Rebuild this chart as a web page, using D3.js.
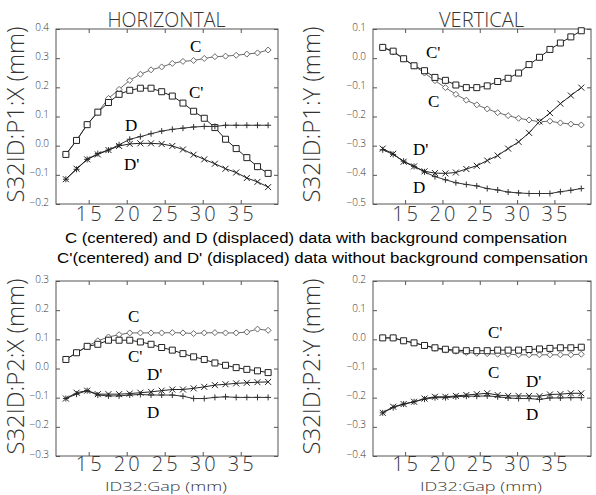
<!DOCTYPE html>
<html>
<head>
<meta charset="utf-8">
<script src="https://cdn.jsdelivr.net/npm/d3@7"></script>
<style>
  html, body { margin: 0; padding: 0; background: #fff; }
  svg { display: block; }
  .thin { font-family: "Open Sans", "DejaVu Sans", sans-serif; font-weight: 300; fill: #333; }
  .cap { font-family: "Liberation Sans", Arial, sans-serif; fill: #000; }
  .lab { font-family: "Liberation Serif", "Times New Roman", serif; fill: #000; }
</style>
</head>
<body>
<script>
// ---------- data ----------
const gap = [12.0, 13.4, 14.8, 16.2, 17.6, 19.0, 20.4, 21.8, 23.2, 24.6, 26.0, 27.4, 28.8, 30.2, 31.6, 33.0, 34.4, 35.8, 37.2, 38.6];
const xTicks = [15, 20, 25, 30, 35];

// P1:X (horizontal, top-left)
const p1x_C  = [-0.030, 0.018, 0.073, 0.115, 0.162, 0.193, 0.224, 0.245, 0.260, 0.270, 0.282, 0.289, 0.292, 0.299, 0.305, 0.307, 0.310, 0.314, 0.318, 0.328];
const p1x_Cp = [-0.030, 0.018, 0.072, 0.115, 0.148, 0.176, 0.190, 0.197, 0.197, 0.185, 0.170, 0.146, 0.118, 0.094, 0.062, 0.022, -0.010, -0.041, -0.072, -0.095];
const p1x_D  = [-0.115, -0.081, -0.047, -0.027, -0.015, 0.003, 0.022, 0.031, 0.041, 0.050, 0.056, 0.060, 0.064, 0.066, 0.066, 0.070, 0.070, 0.070, 0.070, 0.070];
const p1x_Dp = [-0.115, -0.079, -0.047, -0.030, -0.015, -0.001, 0.006, 0.008, 0.008, 0.006, -0.001, -0.013, -0.031, -0.047, -0.062, -0.079, -0.092, -0.111, -0.124, -0.142];

// P1:Y (vertical, top-right)
const p1y_C  = [0.037, 0.021, -0.002, -0.026, -0.051, -0.077, -0.101, -0.124, -0.144, -0.160, -0.174, -0.187, -0.197, -0.206, -0.212, -0.218, -0.216, -0.222, -0.226, -0.229];
const p1y_Cp = [0.037, 0.024, -0.002, -0.026, -0.043, -0.066, -0.076, -0.092, -0.101, -0.101, -0.095, -0.080, -0.069, -0.051, -0.022, 0.003, 0.030, 0.052, 0.073, 0.094];
const p1y_D  = [-0.314, -0.330, -0.353, -0.371, -0.390, -0.406, -0.417, -0.427, -0.433, -0.438, -0.447, -0.452, -0.459, -0.462, -0.464, -0.464, -0.464, -0.458, -0.453, -0.447];
const p1y_Dp = [-0.310, -0.328, -0.355, -0.371, -0.388, -0.394, -0.395, -0.392, -0.380, -0.369, -0.351, -0.334, -0.310, -0.287, -0.256, -0.217, -0.188, -0.156, -0.128, -0.101];

// P2:X (bottom-left)
const p2x_C  = [0.031, 0.054, 0.076, 0.095, 0.108, 0.116, 0.122, 0.122, 0.122, 0.122, 0.123, 0.122, 0.120, 0.122, 0.123, 0.122, 0.122, 0.125, 0.135, 0.131];
const p2x_Cp = [0.031, 0.054, 0.076, 0.083, 0.097, 0.097, 0.097, 0.091, 0.083, 0.072, 0.063, 0.051, 0.040, 0.031, 0.019, 0.011, 0.003, -0.003, -0.008, -0.014];
const p2x_D  = [-0.103, -0.088, -0.076, -0.091, -0.094, -0.094, -0.091, -0.089, -0.091, -0.091, -0.091, -0.095, -0.103, -0.103, -0.099, -0.097, -0.099, -0.099, -0.099, -0.099];
const p2x_Dp = [-0.103, -0.083, -0.076, -0.088, -0.088, -0.088, -0.086, -0.083, -0.080, -0.076, -0.072, -0.072, -0.068, -0.063, -0.057, -0.054, -0.051, -0.049, -0.047, -0.046];

// P2:Y (bottom-right)
const p2y_C  = [0.005, 0.005, -0.005, -0.012, -0.021, -0.031, -0.037, -0.041, -0.045, -0.048, -0.049, -0.051, -0.051, -0.053, -0.053, -0.053, -0.053, -0.053, -0.053, -0.051];
const p2y_Cp = [0.005, 0.005, -0.005, -0.012, -0.021, -0.029, -0.034, -0.037, -0.039, -0.039, -0.039, -0.037, -0.037, -0.037, -0.035, -0.033, -0.031, -0.029, -0.029, -0.027];
const p2y_D  = [-0.252, -0.234, -0.222, -0.214, -0.205, -0.200, -0.200, -0.197, -0.195, -0.195, -0.194, -0.197, -0.201, -0.203, -0.203, -0.206, -0.201, -0.201, -0.200, -0.200];
const p2y_Dp = [-0.252, -0.231, -0.222, -0.214, -0.203, -0.197, -0.197, -0.194, -0.191, -0.188, -0.185, -0.191, -0.194, -0.194, -0.194, -0.195, -0.189, -0.188, -0.185, -0.185];

const seriesNames = ["C", "C'", "D", "D'"];
const captionLines = [
  "C (centered) and D (displaced) data with background compensation",
  "C'(centered) and D' (displaced) data without background compensation"
];

// ---------- drawing ----------
const W = 596, H = 495;
const svg = d3.select("body").append("svg").attr("width", W).attr("height", H);

const markerPath = {
  "C":  "M0,-3L3,0L0,3L-3,0Z",
  "C'": "M-3,-3H3V3H-3Z",
  "D":  "M-3,0H3M0,-3V3",
  "D'": "M-3,-3L3,3M3,-3L-3,3"
};
const seriesColor = { "C": "#6a6a6a", "C'": "#222", "D": "#333", "D'": "#222" };

const panels = [
  { box: [56, 278, 29, 204], yDom: [-0.2, 0.4], yTicks: [-0.2, -0.1, 0, 0.1, 0.2, 0.3, 0.4],
    title: "HORIZONTAL", titleLen: 118, ytitle: "S32ID:P1:X (mm)", ytx: 24, xtitle: null, xlOff: 16.5,
    data: { "C": p1x_C, "C'": p1x_Cp, "D": p1x_D, "D'": p1x_Dp },
    labels: { "C": [28.32, 0.321], "C'": [28.19, 0.163], "D": [19.78, 0.050], "D'": [19.64, -0.083] } },
  { box: [373, 591, 29, 204], yDom: [-0.5, 0.1], yTicks: [-0.5, -0.4, -0.3, -0.2, -0.1, 0, 0.1],
    title: "VERTICAL", titleLen: 85, ytitle: "S32ID:P1:Y (mm)", ytx: 320, xtitle: null, xlOff: 16.5,
    data: { "C": p1y_C, "C'": p1y_Cp, "D": p1y_D, "D'": p1y_Dp },
    labels: { "C'": [17.8, 0.0], "C": [18.07, -0.167], "D'": [16.06, -0.332], "D": [16.06, -0.462] } },
  { box: [56, 278, 281, 456], yDom: [-0.3, 0.3], yTicks: [-0.3, -0.2, -0.1, 0, 0.1, 0.2, 0.3],
    title: null, ytitle: "S32ID:P2:X (mm)", ytx: 24, xtitle: "ID32:Gap (mm)", xlOff: 14.5,
    data: { "C": p2x_C, "C'": p2x_Cp, "D": p2x_D, "D'": p2x_Dp },
    labels: { "C": [20.17, 0.159], "C'": [20.17, 0.022], "D'": [22.67, -0.039], "D": [22.67, -0.170] } },
  { box: [373, 591, 281, 456], yDom: [-0.4, 0.2], yTicks: [-0.4, -0.3, -0.2, -0.1, 0, 0.1, 0.2],
    title: null, ytitle: "S32ID:P2:Y (mm)", ytx: 320, xtitle: "ID32:Gap (mm)", xlOff: 14.5,
    data: { "C": p2y_C, "C'": p2y_Cp, "D": p2y_D, "D'": p2y_Dp },
    labels: { "C'": [26.1, 0.005], "C": [26.1, -0.133], "D'": [31.19, -0.163], "D": [31.19, -0.277] } }
];

const fmt = d3.format(".1f");

panels.forEach(p => {
  const [x0, x1, y0, y1] = p.box;
  const x = d3.scaleLinear().domain([10.7, 39.9]).range([x0, x1]);
  const y = d3.scaleLinear().domain(p.yDom).range([y1, y0]);
  const g = svg.append("g");

  // frame
  g.append("rect").attr("x", x0).attr("y", y0).attr("width", x1 - x0).attr("height", y1 - y0)
    .attr("fill", "none").attr("stroke", "#555").attr("stroke-width", 1);

  // inward ticks on all sides via d3 axes
  const tickLen = 4;
  const axB = g.append("g").attr("transform", `translate(0,${y1})`)
    .call(d3.axisTop(x).tickValues(xTicks).tickSize(tickLen).tickFormat(""));
  const axT = g.append("g").attr("transform", `translate(0,${y0})`)
    .call(d3.axisBottom(x).tickValues(xTicks).tickSize(tickLen).tickFormat(""));
  const axL = g.append("g").attr("transform", `translate(${x0},0)`)
    .call(d3.axisRight(y).tickValues(p.yTicks).tickSize(tickLen).tickFormat(""));
  const axR = g.append("g").attr("transform", `translate(${x1},0)`)
    .call(d3.axisLeft(y).tickValues(p.yTicks).tickSize(tickLen).tickFormat(""));
  [axB, axT, axL, axR].forEach(a => {
    a.select(".domain").remove();
    a.selectAll("line").attr("stroke", "#555");
  });

  // y tick labels
  g.selectAll(".yl").data(p.yTicks).enter().append("text")
    .attr("class", "thin")
    .attr("x", x0 - 7).attr("y", d => y(d) + 1.5)
    .attr("text-anchor", "end").attr("font-size", 10)
    .text(d => fmt(d));

  // x tick labels
  g.selectAll(".xl").data(xTicks).enter().append("text")
    .attr("class", "thin")
    .attr("x", d => x(d) + 1.5).attr("y", y1 + p.xlOff)
    .attr("text-anchor", "middle").attr("font-size", 20)
    .attr("letter-spacing", 3)
    .text(d => d);

  // y title
  g.append("text").attr("class", "thin")
    .attr("transform", `translate(${p.ytx},${(y0 + y1) / 2 - 2}) rotate(-90)`)
    .attr("text-anchor", "middle").attr("font-size", 23)
    .attr("textLength", 176).attr("lengthAdjust", "spacingAndGlyphs")
    .text(p.ytitle);

  if (p.title) {
    g.append("text").attr("class", "thin")
      .attr("x", (x0 + x1) / 2 - 0.5).attr("y", 27)
      .attr("text-anchor", "middle").attr("font-size", 19.5)
      .attr("textLength", p.titleLen).attr("lengthAdjust", "spacingAndGlyphs")
      .text(p.title);
  }
  if (p.xtitle) {
    g.append("text").attr("class", "thin")
      .attr("x", (x0 + x1) / 2 - 1).attr("y", 490.5)
      .attr("text-anchor", "middle").attr("font-size", 13)
      .attr("textLength", 122).attr("lengthAdjust", "spacingAndGlyphs")
      .text(p.xtitle);
  }

  // series
  const line = d3.line().x((d, i) => x(gap[i])).y(d => y(d));
  seriesNames.forEach(name => {
    const vals = p.data[name];
    const col = seriesColor[name];
    g.append("path").datum(vals).attr("d", line)
      .attr("fill", "none").attr("stroke", col).attr("stroke-width", 1);
    g.selectAll(null).data(vals).enter().append("path")
      .attr("transform", (d, i) => `translate(${x(gap[i])},${y(d)})`)
      .attr("d", markerPath[name])
      .attr("fill", (name === "C" || name === "C'") ? "#fff" : "none")
      .attr("stroke", col).attr("stroke-width", 1);
  });

  // curve labels
  seriesNames.forEach(name => {
    const [lx, ly] = p.labels[name];
    g.append("text").attr("class", "lab")
      .attr("x", x(lx)).attr("y", y(ly))
      .attr("font-size", 17)
      .text(name);
  });
});

// caption
svg.append("text").attr("class", "cap")
  .attr("x", 65).attr("y", 242.5).attr("font-size", 14)
  .attr("textLength", 502).attr("lengthAdjust", "spacingAndGlyphs")
  .text(captionLines[0]);
svg.append("text").attr("class", "cap")
  .attr("x", 57).attr("y", 262.5).attr("font-size", 14)
  .attr("textLength", 531).attr("lengthAdjust", "spacingAndGlyphs")
  .text(captionLines[1]);
</script>
</body>
</html>
